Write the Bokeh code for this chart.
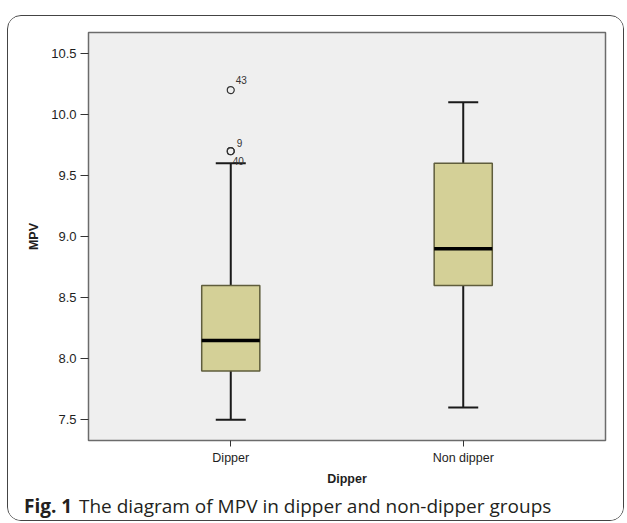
from bokeh.plotting import figure
from bokeh.layouts import column
from bokeh.models import (ColumnDataSource, FactorRange, Range1d, FixedTicker, Whisker, TeeHead)
from bokeh.transform import dodge
from bokeh.core.properties import value
from bokeh.embed import file_html
from bokeh.resources import INLINE

# ---- data ----
categories = ["Dipper", "Non dipper"]
lower = [7.5, 7.6]
q1 = [7.9, 8.6]
median = [8.15, 8.9]
q3 = [8.6, 9.6]
upper = [9.6, 10.1]
outlier_cat = ["Dipper", "Dipper", "Dipper"]
outlier_val = [10.2, 9.7, 9.7]
outlier_id = ["43", "9", "40"]
y_ticks = [7.5, 8.0, 8.5, 9.0, 9.5, 10.0, 10.5]
caption_bold = "Fig. 1"
caption_text = "The diagram of MPV in dipper and non-dipper groups"

BOX_W = 0.25
src = ColumnDataSource(dict(cat=categories, lower=lower, q1=q1, median=median, q3=q3, upper=upper))
osrc = ColumnDataSource(dict(cat=outlier_cat, val=outlier_val, lab=outlier_id,
                             dy=[-10, -8, 10], dx=[5, 6, 2]))

W = 615
p = figure(width=W, height=474, output_backend="svg", toolbar_location=None,
           x_range=FactorRange(factors=categories, range_padding=0.112, range_padding_units="absolute"),
           y_range=Range1d(7.33, 10.672),
           min_border_left=80, min_border_right=18, min_border_top=16, min_border_bottom=50)

p.background_fill_color = "#efefef"
p.border_fill_color = "white"
p.outline_line_color = "#6b6b6b"
p.outline_line_width = 1.5
p.xgrid.visible = False
p.ygrid.visible = False

# whiskers
w = Whisker(base="cat", lower="lower", upper="upper", source=src,
            line_color="#1a1a1a", line_width=2, level="underlay",
            upper_head=TeeHead(size=30, line_color="#1a1a1a", line_width=2),
            lower_head=TeeHead(size=30, line_color="#1a1a1a", line_width=2))
p.add_layout(w)

# boxes
p.vbar(x="cat", bottom="q1", top="q3", width=BOX_W, source=src,
       fill_color="#d4d097", line_color="#5f5d3c", line_width=1.5)

# medians
p.segment(x0=dodge("cat", -BOX_W / 2, range=p.x_range), x1=dodge("cat", BOX_W / 2, range=p.x_range),
          y0="median", y1="median", source=src, line_color="black", line_width=3.5)

# outliers
p.scatter(x="cat", y="val", source=osrc, marker="circle", size=7,
          fill_color=None, line_color="#333333", line_width=1.2)
p.text(x=dodge("cat", 0, range=p.x_range), y="val", text="lab", source=osrc,
       x_offset="dx", y_offset="dy", text_font=value("Liberation Sans"), text_font_size="10px",
       text_color="#333333", text_baseline="middle", text_align="left")

# axes
p.yaxis.ticker = FixedTicker(ticks=y_ticks)
p.yaxis.major_label_overrides = {t: f"{t:.1f}" for t in y_ticks}
p.yaxis.axis_line_color = None
p.yaxis.minor_tick_line_color = None
p.yaxis.major_tick_in = 0
p.yaxis.major_tick_out = 8
p.yaxis.major_tick_line_color = "#333333"
p.yaxis.major_label_standoff = 4
p.yaxis.axis_label = "MPV"
p.yaxis.axis_label_standoff = 7

p.xaxis.axis_line_color = None
p.xaxis.major_tick_in = 0
p.xaxis.major_tick_out = 6
p.xaxis.major_tick_line_color = "#333333"
p.xaxis.major_label_standoff = 4
p.xaxis.axis_label = "Dipper"
p.xaxis.axis_label_standoff = 4

for ax in (p.xaxis[0], p.yaxis[0]):
    ax.major_label_text_font = "Liberation Sans"
    ax.major_label_text_font_size = "13px"
    ax.major_label_text_color = "#1e1e1e"
    ax.axis_label_text_font = "Liberation Sans"
    ax.axis_label_text_font_size = "12.5px"
    ax.axis_label_text_font_style = "bold"
    ax.axis_label_text_color = "#1e1e1e"
p.xaxis.major_label_text_font_size = "12.5px"

# caption strip
CAP_H = 30
cap = figure(title=None, width=W, height=CAP_H, output_backend="svg", toolbar_location=None,
             x_axis_type=None, y_axis_type=None,
             x_range=Range1d(0, W), y_range=Range1d(0, CAP_H),
             min_border=0, min_border_left=0, min_border_right=0, min_border_top=0, min_border_bottom=0)
cap.frame_align = False
cap.grid.visible = False
cap.outline_line_color = None
cap.background_fill_color = "white"
cap.border_fill_color = "white"
cap.text(x=[15.5], y=[14.5], text=[caption_bold], text_font=value("Open Sans"), text_font_size="19px",
         text_font_style="bold", text_color="#231f20", text_baseline="alphabetic")
cap.text(x=[70.5], y=[14.5], text=[caption_text], text_font=value("Open Sans"), text_font_size="19px",
         text_color="#231f20", text_baseline="alphabetic")

layout = column(p, cap, spacing=0,
                styles={"margin-left": "7px", "margin-top": "15px",
                        "border": "1.5px solid #444444", "border-radius": "14px",
                        "overflow": "hidden"})

open("out.html", "w").write(file_html(layout, INLINE))
